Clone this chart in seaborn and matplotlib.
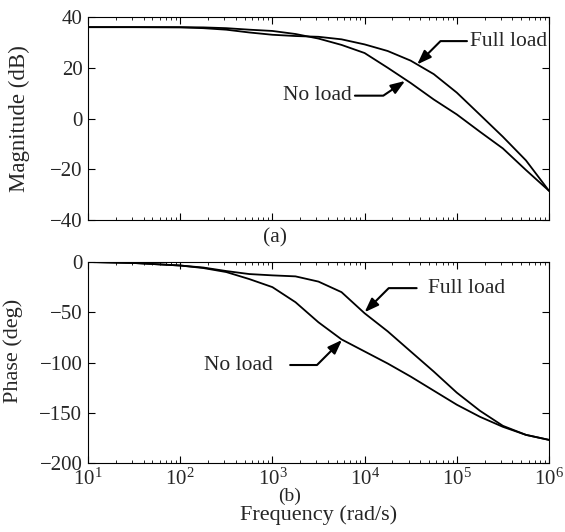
import numpy as np
import pandas as pd
import matplotlib
matplotlib.use("Agg")
import matplotlib.pyplot as plt
import seaborn as sns

# values (frequency in rad/s)
freq = [10, 31.6, 100, 178, 316, 562, 1000, 1780, 3160, 5620, 10000,
        17800, 31600, 56200, 100000, 178000, 316000, 562000, 1000000]

mag_full = [36, 36, 35.9, 35.6, 35.0, 33.9, 33.0, 32.5, 32.2, 31.2, 29.2,
            26.6, 22.8, 17.5, 10.2, 1.5, -7.2, -16.5, -28.5]
mag_none = [36, 36, 36, 35.9, 35.6, 35.0, 34.5, 33.3, 31.5, 29.0, 25.8,
            20.0, 14.0, 7.5, 1.6, -5.2, -11.8, -20.3, -28.5]

phase_full = [0, -1, -3.5, -5.5, -9, -12, -13.3, -14.3, -19.5, -30, -51,
              -69, -89, -109, -130, -148, -163, -172, -177]
phase_none = [0, -1, -3.5, -6, -10, -17, -25, -40, -60, -77, -89,
              -101, -114, -128, -142, -154, -164, -172, -177]

mag_ticks = [40, 20, 0, -20, -40]
phase_ticks = [0, -50, -100, -150, -200]

df = pd.concat([
    pd.DataFrame({'freq': freq, 'mag': mag_full, 'phase': phase_full, 'load': 'Full load'}),
    pd.DataFrame({'freq': freq, 'mag': mag_none, 'phase': phase_none, 'load': 'No load'}),
], ignore_index=True)

sns.set_theme(style='ticks')
plt.rcParams['font.family'] = ['Liberation Serif', 'DejaVu Serif']
plt.rcParams['mathtext.fontset'] = 'stix'
plt.rcParams['axes.linewidth'] = 0.8

fig = plt.figure(figsize=(5.65, 5.32), dpi=100)
W, H = 565, 532
ax1 = fig.add_axes([88 / W, 1 - 220 / H, 461 / W, 203 / H])
ax2 = fig.add_axes([88 / W, 1 - 463 / H, 461 / W, 201 / H])

pal = {'Full load': 'black', 'No load': 'black'}
sns.lineplot(data=df, x='freq', y='mag', hue='load', palette=pal,
             legend=False, linewidth=1.3, ax=ax1)
sns.lineplot(data=df, x='freq', y='phase', hue='load', palette=pal,
             legend=False, linewidth=1.3, ax=ax2)

for ax in (ax1, ax2):
    ax.set_xscale('log')
    ax.set_xlim(10, 1e6)
    ax.tick_params(which='both', direction='in', top=True, right=True,
                   labelsize=15, pad=4, color='black')
    ax.tick_params(which='major', length=5, width=0.8)
    ax.tick_params(which='minor', length=2.5, width=0.6)
    for s in ax.spines.values():
        s.set_color('black')

ax1.set_ylim(-40, 40)
ax1.set_yticks(mag_ticks)
ax1.tick_params(labelbottom=False)
ax1.set_xlabel('')
ax1.set_ylabel('Magnitude (dB)', fontsize=16.5)
ax1.yaxis.set_label_coords(-0.125, 0.5)

ax2.set_ylim(-200, 0)
ax2.set_yticks(phase_ticks)
ax2.set_ylabel('Phase (deg)', fontsize=16)
ax2.yaxis.set_label_coords(-0.14, 0.56)
ax2.set_xlabel('Frequency (rad/s)', fontsize=16)
ax2.xaxis.set_label_coords(0.5, -0.257)
ax2.xaxis.label.set_va('center')

def arrow(ax, text, xy, xytext, ha, angle_b, shrink_a):
    ax.annotate(text, xy=xy, xytext=xytext, ha=ha, va='center', fontsize=15.5,
                arrowprops=dict(arrowstyle='-|>,head_length=0.55,head_width=0.2',
                                connectionstyle=f'angle,angleA=0,angleB={angle_b},rad=0',
                                color='black', lw=1.5, shrinkA=shrink_a, shrinkB=0))

arrow(ax1, 'Full load', (37150, 21.3), (9.6e5, 30.5), 'right', 45, 0)
arrow(ax1, 'No load', (27500, 14.8), (7240, 9.0), 'right', 34, 0)
arrow(ax2, 'Full load', (10000, -50), (49000, -26), 'left', 45, 6)
arrow(ax2, 'No load', (5690, -77.6), (1015, -102.5), 'right', 45, 10)

fig.text(275 / W, 1 - 238 / H, '(a)', ha='center', va='center', fontsize=15.5)
fig.text(290 / W, 1 - 496 / H, '(b)', ha='center', va='center', fontsize=14)

fig.savefig('out.png', dpi=100)
